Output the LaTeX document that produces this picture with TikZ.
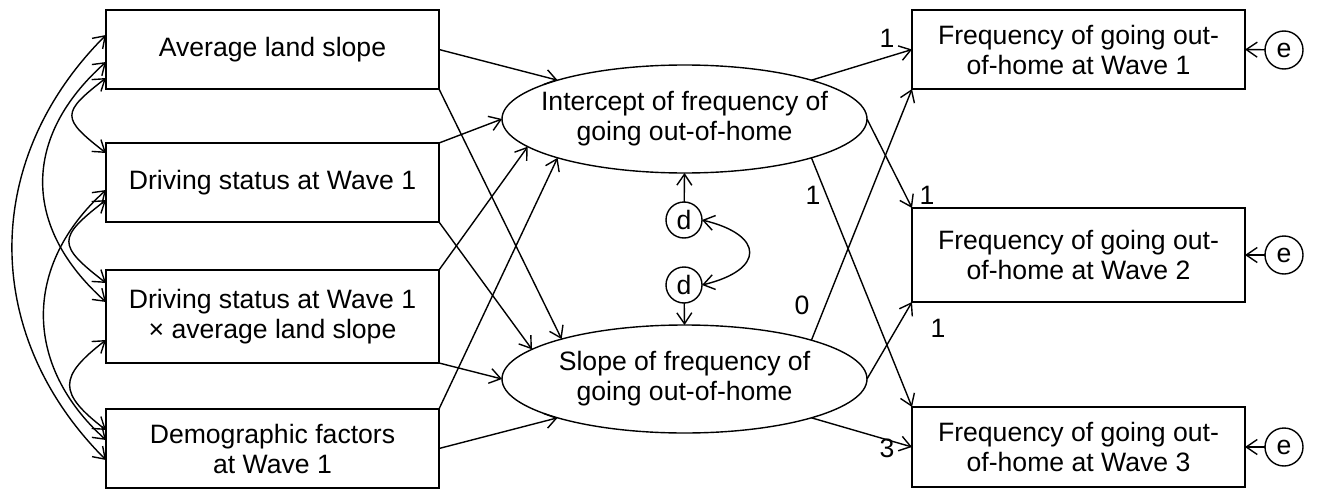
\documentclass[tikz,border=0pt]{standalone}
\usepackage{fontspec}
\setmainfont{Liberation Sans}
\usetikzlibrary{arrows.meta,shapes.geometric}
\begin{document}
\begin{tikzpicture}[x=1pt,y=-1pt,
  every node/.style={font=\fontsize{26.6}{30}\selectfont, inner sep=0pt, outer sep=0pt},
  box/.style={draw, line width=1.4pt, rectangle, minimum width=333pt, align=center},
  lat/.style={draw, line width=1.4pt, ellipse, minimum width=365pt, minimum height=108pt},
  err/.style={draw, line width=1.4pt, circle, minimum size=38pt},
  dis/.style={draw, line width=1.4pt, circle, minimum size=36pt},
  arr/.style={line width=1.4pt, -{Straight Barb[length=11pt,width=15pt]}},
  cov/.style={line width=1.4pt, {Straight Barb[length=11pt,width=15pt]}-{Straight Barb[length=11pt,width=15pt]}}
]
\path[fill=white, use as bounding box] (0,0) rectangle (1319,495);

% left observed
\node[box, minimum height=79pt] (L1) at (272.5,49.5) {Average land slope};
\node[box, minimum height=79pt] (L2) at (272.5,182.5) {Driving status at Wave 1};
\node[box, minimum height=93pt] (L3) at (272.5,316.5) {Driving status at Wave 1\\× average land slope};
\node[box, minimum height=79pt] (L4) at (272.5,448.5) {Demographic factors\\at Wave 1};

% latent
\node[lat] (I) at (684.5,119) {\makebox[0pt][c]{\begin{tabular}{@{}c@{}}Intercept of frequency of\\going out-of-home\end{tabular}}};
\node[lat] (S) at (684.5,379) {\makebox[0pt][c]{\begin{tabular}{@{}c@{}}Slope of frequency of\\going out-of-home\end{tabular}}};

% disturbances
\node[dis] (d1) at (684,220) {d};
\node[dis] (d2) at (684,285) {d};

% right observed
\node[box, minimum height=79pt] (R1) at (1078.5,49.5) {Frequency of going out-\\of-home at Wave 1};
\node[box, minimum height=94pt] (R2) at (1078.5,255) {Frequency of going out-\\of-home at Wave 2};
\node[box, minimum height=80pt] (R3) at (1078.5,447) {Frequency of going out-\\of-home at Wave 3};

% errors
\node[err] (e1) at (1284,50) {e};
\node[err] (e2) at (1284,255) {e};
\node[err] (e3) at (1284,447) {e};

% left -> latent
\draw[arr] (L1.east) -- (I.163);
\draw[arr] (L1.south east) -- (S.162);
\draw[arr] (L2.north east) -- (I.west);
\draw[arr] (L2.south east) -- (S.169);
\draw[arr] (L3.north east) -- (I.190);
\draw[arr] (L3.south east) -- (S.west);
\draw[arr] (L4.north east) -- (I.197);
\draw[arr] (L4.east) -- (S.197);

% latent -> right
\draw[arr] (I.17) -- (R1.west);
\draw[arr] (I.east) -- (R2.north west);
\draw[arr] (I.343) -- (R3.north west);
\draw[arr] (S.17) -- (R1.south west);
\draw[arr] (S.east) -- (R2.south west);
\draw[arr] (S.343) -- (R3.west);

% loadings
\node (n1) at (887,38) {1};
\node (n2) at (927,195) {1};
\node (n3) at (813,195) {1};
\node (n4) at (802,305) {0};
\node (n5) at (938,328) {1};
\node (n6) at (887,448) {3};

% errors -> right
\draw[arr] (e1) -- (R1.east);
\draw[arr] (e2) -- (R2.east);
\draw[arr] (e3) -- (R3.east);

% disturbances
\draw[arr] (d1) -- (I.south);
\draw[arr] (d2) -- (S.north);
\draw[cov] (d1.east) .. controls +(63,15) and +(63,-15) .. (d2.east);

% covariances among exogenous
\draw[cov] ([yshift=14.5pt]L1.west) .. controls +(-125,125) and +(-125,-125) .. ([yshift=-11.5pt]L4.west);
\draw[cov] ([yshift=-12.5pt]L1.west) .. controls +(-84,75) and +(-84,-75) .. ([yshift=14.5pt]L3.west);
\draw[cov] ([yshift=-28.5pt]L1.west) .. controls +(-45,35) and +(-45,-35) .. ([yshift=29.5pt]L2.west);
\draw[cov] ([yshift=-7.5pt]L2.west) .. controls +(-83,75) and +(-83,-75) .. ([yshift=8.5pt]L4.west);
\draw[cov] ([yshift=-17.5pt]L2.west) .. controls +(-49,38) and +(-49,-38) .. ([yshift=33.5pt]L3.west);
\draw[cov] ([yshift=-23.5pt]L3.west) .. controls +(-48,37) and +(-48,-37) .. ([yshift=18.5pt]L4.west);
\end{tikzpicture}
\end{document}
